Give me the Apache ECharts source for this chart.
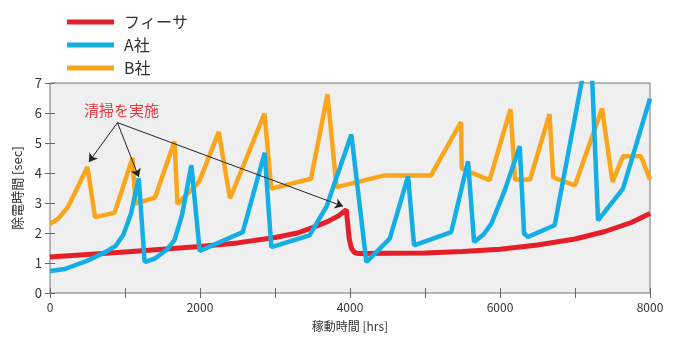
<!DOCTYPE html>
<html>
<head>
<meta charset="utf-8">
<script src="https://cdn.jsdelivr.net/npm/echarts@6/dist/echarts.min.js"></script>
<style>
html,body{margin:0;padding:0;background:#fff;}
#c{width:686px;height:338px;}
</style>
</head>
<body>
<div id="c"></div>
<script>
// ---- data ----
const seriesNames = ['フィーサ', 'A社', 'B社'];
const xTicks = [0, 2000, 4000, 6000, 8000];
const feesaData = [[0,1.2],[500,1.28],[1000,1.37],[1500,1.46],[2000,1.55],[2500,1.67],[3000,1.85],[3300,2.0],[3500,2.18],[3700,2.38],[3850,2.58],[3950,2.78],[3970,2.3],[3990,1.8],[4020,1.48],[4060,1.35],[4100,1.32],[5000,1.33],[5500,1.38],[6000,1.46],[6500,1.6],[7000,1.8],[7400,2.05],[7750,2.35],[8000,2.65]];
const aData = [[0,0.73],[200,0.8],[500,1.08],[750,1.38],[880,1.58],[980,1.95],[1080,2.65],[1183,3.82],[1262,1.03],[1400,1.15],[1560,1.45],[1660,1.76],[1760,2.6],[1885,4.26],[1996,1.4],[2570,2.03],[2862,4.67],[2951,1.53],[3460,1.92],[3685,2.87],[4018,5.28],[4218,1.03],[4530,1.81],[4774,3.89],[4854,1.59],[5350,2.03],[5574,4.39],[5654,1.7],[5780,1.95],[5885,2.31],[6063,3.42],[6263,4.89],[6321,1.98],[6374,1.87],[6729,2.26],[7205,8.58],[7307,2.42],[7640,3.48],[8000,6.48]];
const bData = [[0,2.3],[110,2.48],[240,2.87],[370,3.53],[500,4.2],[600,2.53],[860,2.67],[1100,4.5],[1140,2.98],[1400,3.18],[1660,5.05],[1700,2.96],[1990,3.72],[2250,5.37],[2400,3.15],[2860,5.98],[2950,3.48],[3480,3.81],[3700,6.62],[3820,3.53],[4460,3.92],[5080,3.92],[5480,5.7],[5490,4.15],[5860,3.76],[6140,6.13],[6200,3.78],[6400,3.78],[6660,5.96],[6710,3.85],[7000,3.59],[7360,6.15],[7500,3.7],[7640,4.56],[7880,4.56],[8000,3.78]];
// annotation (data coordinates)
const noteText = '清掃を実施';
const notePos = [954, 6.1];
const arrowFrom = [899, 5.68];
const arrowTargets = [[520, 4.37], [1183, 3.87], [3907, 2.89]];

const FONT = '"Noto Sans CJK JP", "Noto Sans", sans-serif';
const chart = echarts.init(document.getElementById('c'), null, {renderer: 'canvas'});
const tickStyle = {show: true, inside: true, length: 5, lineStyle: {color: '#666', width: 1}};
const option = {
  animation: false,
  textStyle: {fontFamily: FONT},
  legend: {
    orient: 'vertical', left: 62, top: 9,
    data: seriesNames,
    icon: 'rect', itemWidth: 47, itemHeight: 5, itemGap: 7,
    textStyle: {fontSize: 16, lineHeight: 16, color: '#333', fontFamily: FONT, padding: [0,0,0,5]}
  },
  grid: {left: 50, right: 36, top: 83, bottom: 45, show: true, backgroundColor: '#efefef', borderColor: '#777', borderWidth: 1},
  xAxis: [{
    type: 'value', min: 0, max: 8000, interval: 1000,
    name: '稼動時間 [hrs]', nameLocation: 'middle', nameGap: 27,
    nameTextStyle: {fontSize: 12, color: '#333', fontFamily: FONT},
    axisLine: {show: false}, axisTick: tickStyle, splitLine: {show: false},
    axisLabel: {fontSize: 12, color: '#333', margin: 8, fontFamily: FONT,
      formatter: v => xTicks.indexOf(v) >= 0 ? String(v) : ''}
  }, {
    type: 'value', min: 0, max: 8000, interval: 1000, position: 'top',
    axisLine: {show: false}, axisTick: tickStyle, splitLine: {show: false}, axisLabel: {show: false}
  }],
  yAxis: [{
    type: 'value', min: 0, max: 7, interval: 1,
    name: '除電時間 [sec]', nameLocation: 'middle', nameGap: 21, nameRotate: 90,
    nameTextStyle: {fontSize: 13, color: '#333', fontFamily: FONT},
    axisLine: {show: false}, axisTick: tickStyle, splitLine: {show: false},
    axisLabel: {fontSize: 13, color: '#333', margin: 8, fontFamily: FONT}
  }, {
    type: 'value', min: 0, max: 7, interval: 1, position: 'right',
    axisLine: {show: false}, axisTick: tickStyle, splitLine: {show: false}, axisLabel: {show: false}
  }],
  series: [
    {name: 'B社', type: 'line', data: bData, showSymbol: false, symbol: 'none', color: '#f9a61c',
      lineStyle: {width: 4.5, color: '#f9a61c'}, z: 2},
    {name: 'フィーサ', type: 'line', data: feesaData, showSymbol: false, symbol: 'none', color: '#e41f2a',
      lineStyle: {width: 5, color: '#e41f2a'}, z: 3,
      markLine: {
        silent: true, symbol: ['none', 'arrow'], symbolSize: 8,
        lineStyle: {color: '#222', width: 1, type: 'solid'},
        label: {show: false},
        data: arrowTargets.map(t => [{coord: arrowFrom}, {coord: t}])
      },
      markPoint: {
        silent: true, symbol: 'circle', symbolSize: 0,
        label: {show: true, position: 'inside', formatter: noteText, color: '#e8383d', fontSize: 15, fontFamily: FONT},
        data: [{coord: notePos}]
      }
    },
    {name: 'A社', type: 'line', data: aData, showSymbol: false, symbol: 'none', color: '#13aee6',
      lineStyle: {width: 4.5, color: '#13aee6'}, z: 4, clip: true}
  ]
};
chart.setOption(option);
</script>
</body>
</html>
